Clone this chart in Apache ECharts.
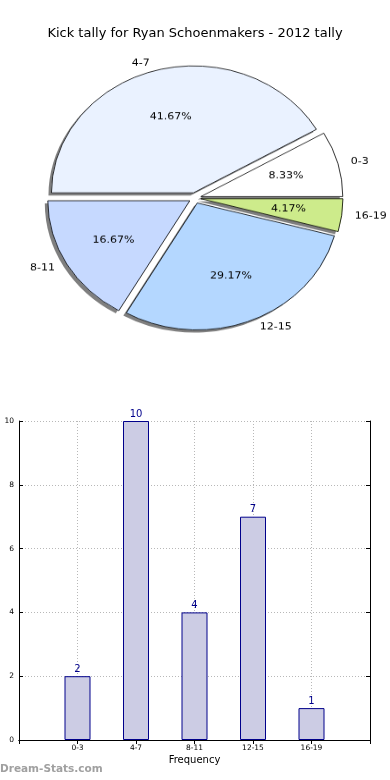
<!DOCTYPE html>
<html><head><meta charset="utf-8">
<script src="https://cdn.jsdelivr.net/npm/echarts@6/dist/echarts.min.js"></script>
<style>
html,body{margin:0;padding:0;background:#fff}
#wrap{position:relative;width:390px;height:780px}
#c{position:absolute;left:0;top:0;width:390px;height:780px}
#p{position:absolute;left:0;top:0;width:390px;height:400px;transform:scaleY(0.894);transform-origin:195px 198px}
</style>
</head><body><div id="wrap"><div id="c"></div><div id="p"></div></div>
<script>
const titleText = 'Kick tally for Ryan Schoenmakers - 2012 tally';
const categories = ['0-3', '4-7', '8-11', '12-15', '16-19'];
const counts = [2, 10, 4, 7, 1];
const sliceColors = ['#ffffff', '#eaf2ff', '#c6d9ff', '#b4d7ff', '#cdeb8b'];
const yTicks = [0, 2, 4, 6, 8, 10];

const F = 'DejaVu Sans';
const total = counts.reduce((a, b) => a + b, 0);
const pieData = categories.map((c, i) => ({name: c, value: counts[i], itemStyle: {color: sliceColors[i]}, selected: true}));
const labelData = categories.map((c, i) => ({name: c, value: counts[i], selected: true}));
const xCats = [''].concat(categories, ['']);
const barData = [null].concat(counts, [null]);
const R = 142, C = [195, 198], EXPLODE = 6;

const pieBase = {type: 'pie', center: C, radius: [0, R], startAngle: 0, clockwise: false,
  selectedMode: 'multiple', selectedOffset: EXPLODE, silent: true, emphasis: {disabled: true}};

const pie = echarts.init(document.getElementById('p'), null, {renderer: 'canvas'});
pie.setOption({
  animation: false,
  series: [
    Object.assign({}, pieBase, {
      data: pieData,
      itemStyle: {borderWidth: 0, shadowColor: 'rgba(0,0,0,0.5)', shadowBlur: 0, shadowOffsetX: -3, shadowOffsetY: 3},
      label: {show: false}, labelLine: {show: false}
    }),
    Object.assign({}, pieBase, {
      data: pieData,
      itemStyle: {borderColor: '#000', borderWidth: 0.8},
      label: {show: false}, labelLine: {show: false}
    }),
    Object.assign({}, pieBase, {
      radius: [R * 0.5, R * 0.7],
      data: labelData,
      itemStyle: {color: 'rgba(0,0,0,0)', borderWidth: 0},
      label: {show: true, position: 'inside', formatter: p => (p.value / total * 100).toFixed(2) + '%', fontFamily: F, fontSize: 11, color: '#000'},
      labelLine: {show: false}
    }),
    Object.assign({}, pieBase, {
      data: labelData,
      itemStyle: {color: 'rgba(0,0,0,0)', borderWidth: 0},
      label: {show: true, position: 'outside', overflow: 'none', formatter: '{b}', fontFamily: F, fontSize: 11, color: '#000'},
      labelLine: {show: false, length: 8, length2: 0}
    })
  ]
});

const chart = echarts.init(document.getElementById('c'), null, {renderer: 'canvas'});
chart.setOption({
  animation: false,
  title: {text: titleText, left: 'center', top: 22, textStyle: {fontFamily: F, fontSize: 13, fontWeight: 'normal', color: '#000'}},
  graphic: [{type: 'text', left: 0, top: 764, style: {text: 'Dream-Stats.com', fill: '#a0a0a0', font: 'bold 10.5px "DejaVu Sans"'}}],
  grid: {left: 19, right: 20, top: 421, bottom: 40, containLabel: false, outerBoundsMode: 'none'},
  xAxis: [{
    type: 'category', data: xCats, boundaryGap: false, position: 'bottom',
    name: 'Frequency', nameLocation: 'middle', nameGap: 15,
    nameTextStyle: {fontFamily: F, fontSize: 10, color: '#000'},
    axisLine: {lineStyle: {color: '#000', width: 1}},
    axisTick: {show: true, inside: true, length: 4, lineStyle: {color: '#000'}},
    axisLabel: {fontFamily: F, fontSize: 7.5, color: '#000', margin: 4},
    splitLine: {show: true, lineStyle: {color: '#b8b8b8', type: [1, 2]}}
  }, {
    type: 'category', data: xCats, boundaryGap: false, position: 'top',
    axisLine: {lineStyle: {color: '#000', width: 1}},
    axisTick: {show: true, inside: true, length: 4, lineStyle: {color: '#000'}},
    axisLabel: {show: false}, splitLine: {show: false}
  }],
  yAxis: [{
    type: 'value', min: yTicks[0], max: yTicks[yTicks.length - 1], interval: 2, position: 'left',
    name: 'Number of Kicks', nameLocation: 'middle', nameGap: 19, nameRotate: 90,
    nameTextStyle: {fontFamily: F, fontSize: 10, color: '#000'},
    axisLine: {show: true, lineStyle: {color: '#000', width: 1}},
    axisTick: {show: true, inside: true, length: 4, lineStyle: {color: '#000'}},
    axisLabel: {fontFamily: F, fontSize: 7.5, color: '#000', margin: 5},
    splitLine: {show: true, lineStyle: {color: '#b8b8b8', type: [1, 2]}}
  }, {
    type: 'value', min: yTicks[0], max: yTicks[yTicks.length - 1], interval: 2, position: 'right',
    axisLine: {show: true, lineStyle: {color: '#000', width: 1}},
    axisTick: {show: true, inside: true, length: 4, lineStyle: {color: '#000'}},
    axisLabel: {show: false}, splitLine: {show: false}
  }],
  series: [
    {
      type: 'bar', xAxisIndex: 0, yAxisIndex: 0, data: barData, barWidth: 26,
      itemStyle: {color: '#ccccE4', borderColor: '#00008b', borderWidth: 1},
      label: {show: true, position: 'top', distance: 2, fontFamily: F, fontSize: 10, color: '#00008b'},
      emphasis: {disabled: true}
    }
  ]
});
</script></body></html>
